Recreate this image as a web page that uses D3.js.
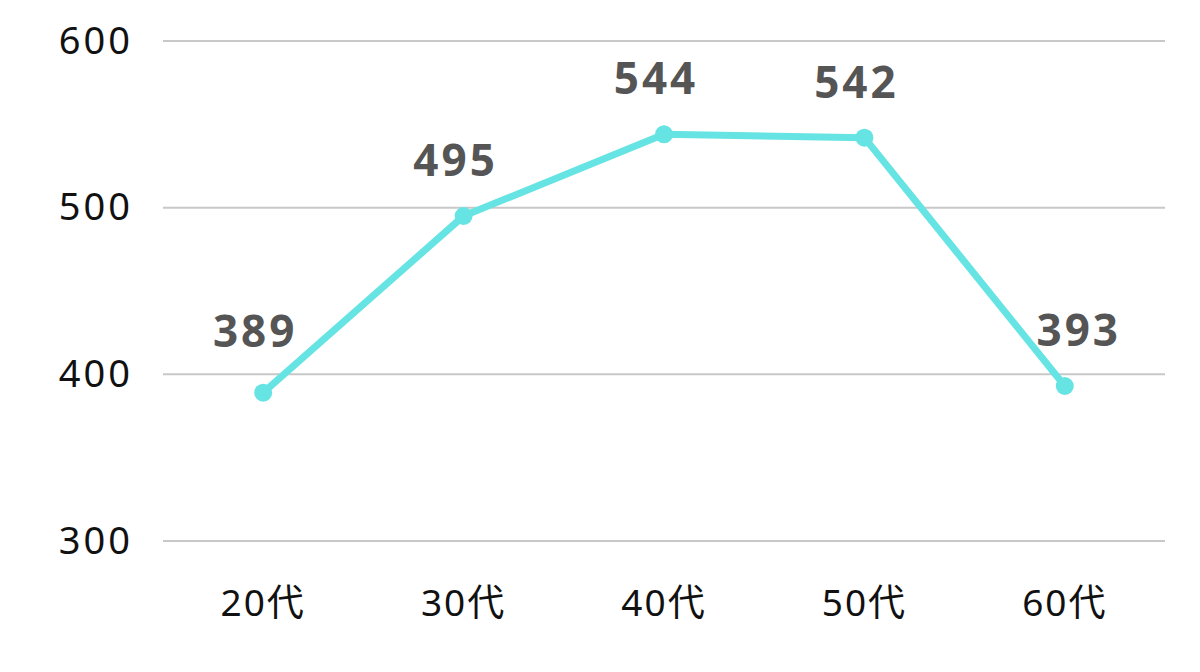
<!DOCTYPE html>
<html><head><meta charset="utf-8">
<script src="https://cdn.jsdelivr.net/npm/d3@7"></script>
<style>html,body{margin:0;padding:0;background:#fff;}svg{display:block;}</style>
</head><body>
<svg id="c" width="1200" height="672"></svg>
<script>
const categories = ["20代", "30代", "40代", "50代", "60代"];
const values = [389, 495, 544, 542, 393];
const yTicks = [300, 400, 500, 600];

const svg = d3.select("#c");
const font = "'Noto Sans', 'Noto Sans CJK JP', sans-serif";
const x = d3.scaleBand().domain(categories).range([163, 1165]);
const y = d3.scaleLinear().domain([300, 600]).range([541, 41]);
const cx = d => x(d) + x.bandwidth() / 2;

// grid
svg.append("g").selectAll("line").data(yTicks).join("line")
  .attr("x1", 163).attr("x2", 1165)
  .attr("y1", d => y(d)).attr("y2", d => y(d))
  .attr("stroke", "#c8c8c8").attr("stroke-width", 2);

// y axis labels
const yAxis = svg.append("g").attr("transform", "translate(133,0)")
  .call(d3.axisLeft(y).tickValues(yTicks).tickSize(0).tickPadding(0));
yAxis.select(".domain").remove();
yAxis.selectAll("text").attr("font-family", font).attr("font-size", 38)
  .attr("letter-spacing", 3).attr("fill", "#111");

// x axis labels
const xAxis = svg.append("g").attr("transform", "translate(0,590)")
  .call(d3.axisBottom(x).tickSize(0).tickPadding(0));
xAxis.select(".domain").remove();
xAxis.selectAll("text").attr("font-family", font).attr("font-size", 37)
  .attr("letter-spacing", 2).attr("fill", "#111").attr("dy", "0.7em");

const pts = categories.map((c, i) => ({c, v: values[i]}));
const color = "#66e3e3";

svg.append("path").datum(pts)
  .attr("d", d3.line().x(d => cx(d.c)).y(d => y(d.v)))
  .attr("fill", "none").attr("stroke", color).attr("stroke-width", 7)
  .attr("stroke-linejoin", "round");

svg.append("g").selectAll("circle").data(pts).join("circle")
  .attr("cx", d => cx(d.c)).attr("cy", d => y(d.v)).attr("r", 9)
  .attr("fill", color);

svg.append("g").selectAll("text").data(pts).join("text")
  .attr("x", (d, i) => cx(d.c) + (i === pts.length - 1 ? 14 : -8))
  .attr("y", (d, i) => y(d.v) - (i === 0 ? 46 : 40))
  .attr("text-anchor", "middle")
  .attr("font-family", font).attr("font-weight", "bold").attr("font-size", 44)
  .attr("letter-spacing", 3)
  .attr("fill", "#555").text(d => d.v);
</script>
</body></html>
